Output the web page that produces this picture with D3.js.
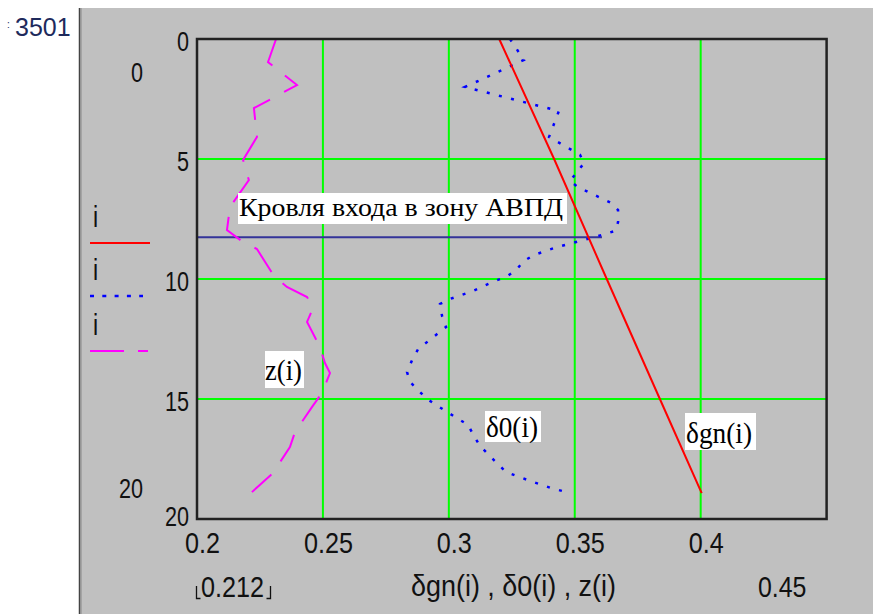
<!DOCTYPE html>
<html><head><meta charset="utf-8">
<script src="https://cdn.jsdelivr.net/npm/d3@7"></script>
<style>
html,body{margin:0;padding:0;background:#fff;}
svg{display:block;}
</style></head>
<body>
<script>
// ---- data ----
const depthTicks = [0, 5, 10, 15, 20];
const valueTicks = [0.2, 0.25, 0.3, 0.35, 0.4];
const valueDomain = [0.2, 0.45];
const depthDomain = [0, 20];

// δgn(i) – red solid
const gnDepth = [0, 5, 10, 15, 18.92];
const gnVal   = [0.3200, 0.3418, 0.3627, 0.3838, 0.4004];

// δ0(i) – blue dotted
const d0Depth = [0, 0.875, 2.0, 3.0, 4.08, 4.83, 5.17, 5.92, 6.17, 6.83, 7.13, 7.63, 8.0, 8.29, 8.67, 9.0, 9.25, 9.63, 9.92, 10.08, 10.5, 10.83, 11.04, 11.54, 12.0, 12.33, 12.92, 13.38, 13.88, 14.29, 14.63, 15.0, 15.54, 16.08, 16.54, 16.96, 17.63, 18.04, 18.38, 18.71, 18.83];
const d0Val   = [0.3243, 0.3298, 0.3064, 0.3437, 0.3398, 0.3521, 0.3537, 0.3481, 0.3513, 0.3644, 0.3672, 0.3672, 0.3660, 0.3568, 0.3429, 0.3338, 0.3298, 0.3267, 0.3227, 0.3183, 0.3096, 0.3005, 0.2965, 0.2973, 0.2989, 0.2949, 0.2878, 0.2854, 0.2834, 0.2846, 0.2878, 0.2913, 0.2993, 0.3076, 0.3100, 0.3124, 0.3187, 0.3227, 0.3314, 0.3406, 0.3449];

// z(i) – magenta dashed
const zDepth = [0, 0.96, 1.92, 2.88, 4.08, 5.04, 5.88, 7.0, 7.96, 8.46, 8.75, 9.88, 10.33, 10.75, 11.2, 11.79, 12.83, 13.5, 13.92, 14.75, 15.33, 16.38, 17.0, 18.08, 18.5, 18.88];
const zVal   = [0.2314, 0.2282, 0.2397, 0.2226, 0.2238, 0.2183, 0.2206, 0.2131, 0.2119, 0.2183, 0.2238, 0.2306, 0.2357, 0.2437, 0.2461, 0.2437, 0.2488, 0.2508, 0.2528, 0.2496, 0.2457, 0.2389, 0.2369, 0.2302, 0.2258, 0.2218];

// marker "Кровля входа в зону АВПД"
const markerDepth = 8.26;
const markerRange = [0.2, 0.3608];

const legendLabels = ["i", "i", "i"];
const markerText = "Кровля входа в зону АВПД";
const axisTitle = "δgn(i) , δ0(i) , z(i)";
const xLimitLow = "0.212", xLimitHigh = "0.45";
const yLimitLow = "0", yLimitHigh = "20";
const cornerText = "3501";

// ---- drawing ----
const W = 873, H = 614;
const svg = d3.select("body").append("svg").attr("width", W).attr("height", H);
const SANS = "'Liberation Sans',Arial,sans-serif";
const SERIF = "'Liberation Serif','Times New Roman',serif";

// condense sans text horizontally (the original uses a narrow face)
function narrow(sel, f) {
  sel.each(function () {
    const L = this.getComputedTextLength();
    d3.select(this).attr("textLength", L * (f || 0.83)).attr("lengthAdjust", "spacingAndGlyphs");
  });
  return sel;
}

// panel
svg.append("rect").attr("x", 80).attr("y", 8).attr("width", W - 80).attr("height", H - 8).attr("fill", "#c0c0c0");
svg.append("line").attr("x1", 79.5).attr("x2", 79.5).attr("y1", 8).attr("y2", H).attr("stroke", "#444").attr("stroke-width", 1.5);
svg.append("line").attr("x1", 81).attr("x2", 81).attr("y1", 8).attr("y2", H).attr("stroke", "#888").attr("stroke-width", 1);

// corner label
svg.append("text").attr("x", 15).attr("y", 36).attr("font-family", SANS)
  .attr("font-size", 25).attr("fill", "#1e2a5c").text(cornerText);
svg.append("text").attr("x", 7).attr("y", 28).attr("font-family", SANS)
  .attr("font-size", 10).attr("fill", "#1e2a5c").text(":");

const x = d3.scaleLinear().domain(valueDomain).range([197, 826.6]);
const y = d3.scaleLinear().domain(depthDomain).range([39, 519]);

const plot = svg.append("g");

// grid
plot.append("g").selectAll("line").data(valueTicks.slice(1)).join("line")
  .attr("x1", d => x(d)).attr("x2", d => x(d)).attr("y1", y(0)).attr("y2", y(20))
  .attr("stroke", "#00ff00").attr("stroke-width", 2);
plot.append("g").selectAll("line").data(depthTicks.slice(1, -1)).join("line")
  .attr("x1", x(0.2)).attr("x2", x(0.45)).attr("y1", d => y(d)).attr("y2", d => y(d))
  .attr("stroke", "#00ff00").attr("stroke-width", 2);

// marker line
plot.append("line").attr("x1", x(markerRange[0])).attr("x2", x(markerRange[1]))
  .attr("y1", y(markerDepth)).attr("y2", y(markerDepth))
  .attr("stroke", "#333399").attr("stroke-width", 2);

const line = d3.line().x(d => x(d[1])).y(d => y(d[0]));
const zip = (a, b) => a.map((v, i) => [v, b[i]]);

plot.append("path").datum(zip(zDepth, zVal)).attr("d", line).attr("fill", "none")
  .attr("stroke", "#ff00ff").attr("stroke-width", 2).attr("stroke-dasharray", "30,16");
plot.append("path").datum(zip(d0Depth, d0Val)).attr("d", line).attr("fill", "none")
  .attr("stroke", "#0000ff").attr("stroke-width", 2.5).attr("stroke-dasharray", "3,9.5");
plot.append("path").datum(zip(gnDepth, gnVal)).attr("d", line).attr("fill", "none")
  .attr("stroke", "#ff0000").attr("stroke-width", 2);

// annotation boxes
function boxLabel(bx, by, bw, bh, tx, ty, txt, fs, tl) {
  svg.append("rect").attr("x", bx).attr("y", by).attr("width", bw).attr("height", bh).attr("fill", "#fff");
  svg.append("text").attr("x", tx).attr("y", ty).attr("font-family", SERIF).attr("font-size", fs)
    .attr("fill", "#000").attr("textLength", tl).attr("lengthAdjust", "spacingAndGlyphs").text(txt);
}
boxLabel(238, 193, 329, 31, 239, 216, markerText, 26, 324);
boxLabel(265, 351, 39, 37, 265, 380, "z(i)", 29, 37);
boxLabel(485, 411, 56, 31, 486, 437, "δ0(i)", 29, 52);
boxLabel(685, 413, 71, 37, 686, 443, "δgn(i)", 30, 66);

// plot border
plot.append("rect").attr("x", x(0.2)).attr("y", y(0)).attr("width", x(0.45) - x(0.2)).attr("height", y(20) - y(0))
  .attr("fill", "none").attr("stroke", "#222").attr("stroke-width", 2.5);

// axes
const xAxis = svg.append("g").attr("transform", `translate(0,${y(20)})`)
  .call(d3.axisBottom(x).tickValues(valueTicks).tickSize(0).tickFormat(d => String(d)));
xAxis.select(".domain").remove();
narrow(xAxis.selectAll("text").attr("y", 34).attr("dy", null).attr("dx", 5)
  .attr("font-family", SANS).attr("font-size", 30).attr("fill", "#111"), 0.84);

const yAxis = svg.append("g").attr("transform", `translate(${x(0.2)},0)`)
  .call(d3.axisLeft(y).tickValues(depthTicks).tickSize(0).tickFormat(d => String(d)));
yAxis.select(".domain").remove();
narrow(yAxis.selectAll("text").attr("x", -8).attr("dy", null).attr("y", d => d === 20 ? 6 : 11)
  .attr("font-family", SANS).attr("font-size", 27).attr("fill", "#111"), 0.8);

// axis limit labels
narrow(svg.append("text").attr("x", 143).attr("y", 82).attr("text-anchor", "end")
  .attr("font-family", SANS).attr("font-size", 27).attr("fill", "#111").text(yLimitLow), 0.8);
narrow(svg.append("text").attr("x", 143).attr("y", 498).attr("text-anchor", "end")
  .attr("font-family", SANS).attr("font-size", 27).attr("fill", "#111").text(yLimitHigh), 0.8);

narrow(svg.append("text").attr("x", 201).attr("y", 597)
  .attr("font-family", SANS).attr("font-size", 30).attr("fill", "#111").text(xLimitLow), 0.84);
svg.append("path").attr("d", "M196.5,586 V598.5 H200.5 M270.5,586 V598.5 H266.5")
  .attr("fill", "none").attr("stroke", "#111").attr("stroke-width", 1.3);
narrow(svg.append("text").attr("x", 758).attr("y", 597)
  .attr("font-family", SANS).attr("font-size", 30).attr("fill", "#111").text(xLimitHigh), 0.83);
svg.append("text").attr("x", 411).attr("y", 596).attr("textLength", 205).attr("lengthAdjust", "spacingAndGlyphs")
  .attr("font-family", SANS).attr("font-size", 29).attr("fill", "#111").text(axisTitle);

// legend
const legY = [227, 280, 335];
const legStyles = [
  {stroke: "#ff0000", dash: null, w: 2, x2: 150},
  {stroke: "#0000ff", dash: "4,8.3", w: 2.4, x2: 143},
  {stroke: "#ff00ff", dash: "34,14", w: 2, x2: 148}
];
legendLabels.forEach((t, k) => {
  narrow(svg.append("text").attr("x", 93).attr("y", legY[k]).attr("font-family", SANS)
    .attr("font-size", 29).attr("fill", "#111").text(t), 0.8);
  svg.append("line").attr("x1", 90).attr("x2", legStyles[k].x2).attr("y1", legY[k] + 16).attr("y2", legY[k] + 16)
    .attr("stroke", legStyles[k].stroke).attr("stroke-width", legStyles[k].w)
    .attr("stroke-dasharray", legStyles[k].dash);
});
</script>
</body></html>
